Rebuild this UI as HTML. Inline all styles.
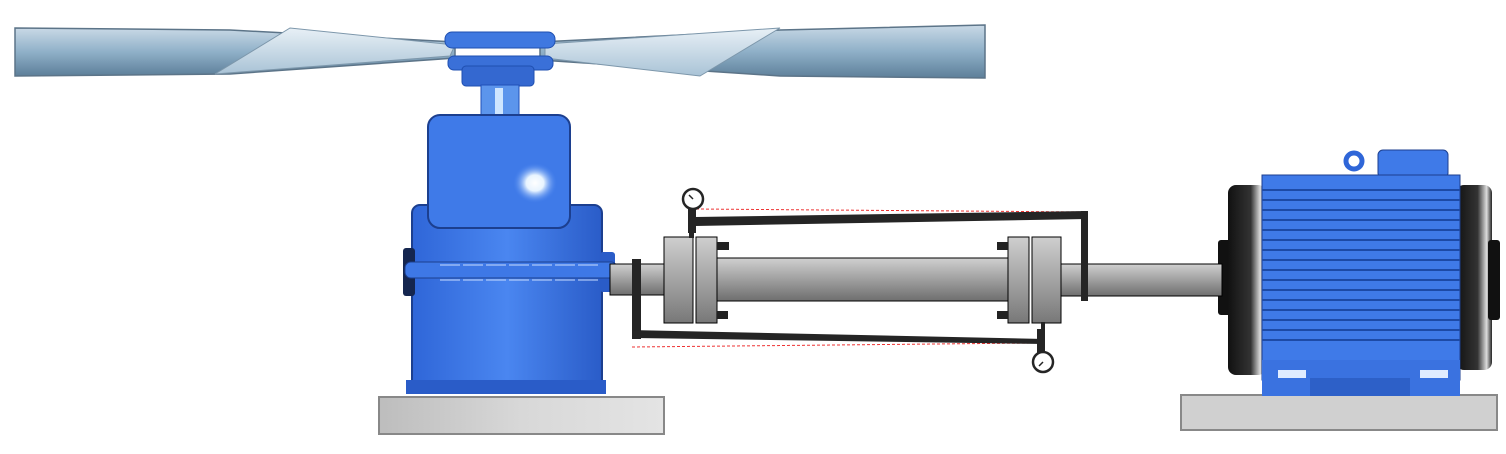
<!DOCTYPE html>
<html><head><meta charset="utf-8"><style>html,body{margin:0;padding:0;background:#fff}svg{display:block}</style></head>
<body>
<svg width="1506" height="454" viewBox="0 0 1506 454" xmlns="http://www.w3.org/2000/svg">
<defs>
<linearGradient id="sh" x1="0" y1="0" x2="0" y2="1"><stop offset="0" stop-color="#d0d0d0"/><stop offset="1" stop-color="#6e6e6e"/></linearGradient>
<linearGradient id="fl" x1="0" y1="0" x2="0" y2="1"><stop offset="0" stop-color="#cfcfcf"/><stop offset="1" stop-color="#787878"/></linearGradient>
<linearGradient id="blue" x1="0" y1="0" x2="1" y2="0"><stop offset="0" stop-color="#2f66d8"/><stop offset=".5" stop-color="#4a86f0"/><stop offset="1" stop-color="#2a5cc8"/></linearGradient>
<linearGradient id="blade" x1="0" y1="0" x2="0" y2="1"><stop offset="0" stop-color="#c9d9e6"/><stop offset=".5" stop-color="#8fb0c8"/><stop offset="1" stop-color="#5d7f99"/></linearGradient>
<linearGradient id="blade2" x1="0" y1="0" x2="0" y2="1"><stop offset="0" stop-color="#e8f0f6"/><stop offset="1" stop-color="#a9c3d6"/></linearGradient>
<linearGradient id="base" x1="0" y1="0" x2="1" y2="0"><stop offset="0" stop-color="#bdbdbd"/><stop offset=".5" stop-color="#d8d8d8"/><stop offset="1" stop-color="#e4e4e4"/></linearGradient>
<radialGradient id="glow" cx=".5" cy=".5" r=".5"><stop offset="0" stop-color="#fff"/><stop offset=".4" stop-color="#e8f4ff"/><stop offset="1" stop-color="#4a86f0" stop-opacity="0"/></radialGradient>
<linearGradient id="cap" x1="0" y1="0" x2="1" y2="0"><stop offset="0" stop-color="#111"/><stop offset=".6" stop-color="#333"/><stop offset=".85" stop-color="#ddd"/><stop offset="1" stop-color="#222"/></linearGradient>
</defs>

<!-- Fan blades -->
<polygon points="15,28 230,30 455,42 455,58 230,74 15,76" fill="url(#blade)" stroke="#5c7488" stroke-width="1.5"/>
<polygon points="215,74 290,28 455,45 450,56" fill="url(#blade2)" stroke="#7d97ab" stroke-width="1"/>
<polygon points="985,25 780,30 540,42 540,60 780,76 985,78" fill="url(#blade)" stroke="#5c7488" stroke-width="1.5"/>
<polygon points="700,76 780,28 545,44 545,58" fill="url(#blade2)" stroke="#7d97ab" stroke-width="1"/>
<!-- hub -->
<rect x="445" y="32" width="110" height="16" rx="7" fill="#3f78e0" stroke="#1f4fb0"/>
<rect x="448" y="56" width="105" height="14" rx="6" fill="#3a70d8" stroke="#1f4fb0"/>
<rect x="462" y="66" width="72" height="20" rx="4" fill="#3468d0" stroke="#1f4fb0"/>
<rect x="481" y="85" width="38" height="34" fill="#5c95ec" stroke="#2050b8"/>
<rect x="495" y="88" width="8" height="28" fill="#cfe6ff"/>

<!-- Gearbox -->
<rect x="412" y="205" width="190" height="188" rx="8" fill="url(#blue)" stroke="#1c3f8f" stroke-width="2"/>
<rect x="403" y="248" width="12" height="48" rx="3" fill="#15264f"/>
<rect x="600" y="252" width="15" height="40" rx="3" fill="#2a5cc8"/>
<rect x="405" y="262" width="212" height="16" rx="6" fill="#3e78e6" stroke="#1c3f8f"/>
<line x1="440" y1="265" x2="600" y2="265" stroke="#c8dcff" stroke-dasharray="20,3"/>
<line x1="440" y1="280" x2="600" y2="280" stroke="#c8dcff" stroke-dasharray="20,3"/>
<rect x="428" y="115" width="142" height="113" rx="12" fill="#3f7ae8" stroke="#1c3f8f" stroke-width="2"/>
<ellipse cx="535" cy="183" rx="22" ry="20" fill="url(#glow)"/>
<rect x="406" y="380" width="200" height="14" fill="#2a5cc8"/>
<rect x="379" y="397" width="285" height="37" fill="url(#base)" stroke="#888" stroke-width="2"/>

<!-- Motor -->
<rect x="1181" y="395" width="316" height="35" fill="#d0d0d0" stroke="#888" stroke-width="2"/>
<rect x="1218" y="240" width="14" height="75" rx="3" fill="#111"/>
<rect x="1228" y="185" width="38" height="190" rx="8" fill="url(#cap)"/>
<rect x="1456" y="185" width="36" height="185" rx="8" fill="url(#cap)"/>
<rect x="1488" y="240" width="12" height="80" rx="3" fill="#111"/>
<circle cx="1354" cy="161" r="8" fill="none" stroke="#2f66d8" stroke-width="5"/>
<rect x="1378" y="150" width="70" height="28" rx="5" fill="#3f7ae8" stroke="#1c3f8f"/>
<rect x="1262" y="175" width="198" height="205" fill="#3f7ae8" stroke="#1c3f8f"/>
<g stroke="#1d4aa6" stroke-width="2">
<line x1="1262" y1="190" x2="1460" y2="190"/><line x1="1262" y1="200" x2="1460" y2="200"/><line x1="1262" y1="210" x2="1460" y2="210"/><line x1="1262" y1="220" x2="1460" y2="220"/><line x1="1262" y1="230" x2="1460" y2="230"/><line x1="1262" y1="240" x2="1460" y2="240"/><line x1="1262" y1="250" x2="1460" y2="250"/><line x1="1262" y1="260" x2="1460" y2="260"/><line x1="1262" y1="270" x2="1460" y2="270"/><line x1="1262" y1="280" x2="1460" y2="280"/><line x1="1262" y1="290" x2="1460" y2="290"/><line x1="1262" y1="300" x2="1460" y2="300"/><line x1="1262" y1="310" x2="1460" y2="310"/><line x1="1262" y1="320" x2="1460" y2="320"/><line x1="1262" y1="330" x2="1460" y2="330"/><line x1="1262" y1="340" x2="1460" y2="340"/>
</g>
<rect x="1262" y="360" width="198" height="36" fill="#3a72e0"/>
<rect x="1278" y="370" width="28" height="8" fill="#e0ecff"/>
<rect x="1420" y="370" width="28" height="8" fill="#e0ecff"/>
<rect x="1310" y="378" width="100" height="18" fill="#2d60c8"/>

<!-- shaft assembly -->
<rect x="610" y="264" width="55" height="31" fill="url(#sh)" stroke="#000"/>
<rect x="1061" y="264" width="161" height="32" fill="url(#sh)" stroke="#000"/>
<rect x="717" y="258" width="292" height="43" fill="url(#sh)" stroke="#000"/>
<rect x="664" y="237" width="29" height="86" fill="url(#fl)" stroke="#000"/>
<rect x="696" y="237" width="21" height="86" fill="url(#fl)" stroke="#000"/>
<rect x="1008" y="237" width="21" height="86" fill="url(#fl)" stroke="#000"/>
<rect x="1032" y="237" width="29" height="86" fill="url(#fl)" stroke="#000"/>
<g fill="#222">
<rect x="717" y="242" width="12" height="8"/><rect x="717" y="311" width="11" height="8"/>
<rect x="997" y="242" width="11" height="8"/><rect x="997" y="311" width="11" height="8"/>
</g>
<!-- red dashed lines -->
<line x1="696" y1="209" x2="1088" y2="212" stroke="#e33" stroke-width="1" stroke-dasharray="3,2"/>
<line x1="632" y1="347" x2="1036" y2="343" stroke="#e33" stroke-width="1" stroke-dasharray="3,2"/>
<!-- top bracket -->
<polygon points="695,217 1087,211 1087,219 695,226" fill="#252525"/>
<rect x="1081" y="211" width="7" height="90" fill="#252525"/>
<rect x="688" y="207" width="8" height="26" fill="#252525"/>
<rect x="689" y="224" width="5" height="14" fill="#252525"/>
<circle cx="693" cy="199" r="10" fill="#fff" stroke="#252525" stroke-width="2.5"/>
<line x1="693" y1="199" x2="689" y2="195" stroke="#252525" stroke-width="1.5"/>
<!-- bottom bracket -->
<rect x="632" y="259" width="9" height="80" fill="#252525"/>
<polygon points="632,330 1045,339 1045,344 632,338" fill="#252525"/>
<rect x="1037" y="329" width="8" height="24" fill="#252525"/>
<rect x="1041" y="322" width="4" height="9" fill="#252525"/>
<circle cx="1043" cy="362" r="10" fill="#fff" stroke="#252525" stroke-width="2.5"/>
<line x1="1043" y1="362" x2="1039" y2="366" stroke="#252525" stroke-width="1.5"/>
</svg>
</body></html>
